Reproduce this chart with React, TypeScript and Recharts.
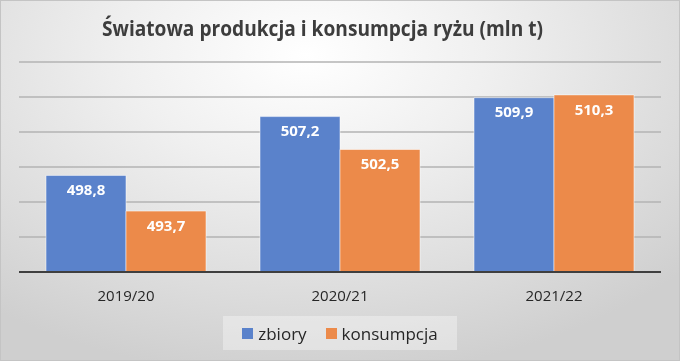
import React from "react";
import { BarChart, Bar, XAxis, YAxis, CartesianGrid, LabelList, Legend, Customized } from "recharts";

const categories = ["2019/20", "2020/21", "2021/22"];
const zbiory = [498.8, 507.2, 509.9];
const konsumpcja = [493.7, 502.5, 510.3];
const yTicks = [485, 490, 495, 500, 505, 510, 515];
const title = "Światowa produkcja i konsumpcja ryżu (mln t)";
const seriesNames = { zbiory: "zbiory", konsumpcja: "konsumpcja" };

const data = categories.map((c, i) => ({ cat: c, zbiory: zbiory[i], konsumpcja: konsumpcja[i] }));

const BLUE = "#5A82CB";
const ORANGE = "#EC8A4A";
const FONT = "'Open Sans', sans-serif";

const fmt = (v: any) => Number(v).toFixed(1).replace(".", ",");

const LegendContent = () => (
  <div
    style={{
      width: 234,
      height: 34,
      background: "rgba(255,255,255,0.35)",
      display: "flex",
      alignItems: "center",
      justifyContent: "center",
      fontFamily: FONT,
      fontSize: 17,
      color: "#262626",
    }}
  >
    <span style={{ display: "inline-block", width: 11, height: 11, background: BLUE, marginRight: 5 }} />
    <span style={{ marginRight: 19 }}>{seriesNames.zbiory}</span>
    <span style={{ display: "inline-block", width: 11, height: 11, background: ORANGE, marginRight: 5 }} />
    <span>{seriesNames.konsumpcja}</span>
  </div>
);

const Title = () => (
  <text
    x={102}
    y={36}
    textLength={441}
    lengthAdjust="spacingAndGlyphs"
    style={{ fontFamily: FONT, fontSize: 21, fontWeight: 700, fill: "#3d3d3d" }}
  >
    {title}
  </text>
);

export default function App() {
  return (
    <div
      style={{
        position: "fixed",
        left: 0,
        top: 0,
        width: 680,
        height: 361,
        boxSizing: "border-box",
        border: "1px solid #c4c4c4",
        background: "radial-gradient(ellipse 75% 90% at 45% 15%, #ffffff 0%, #f0f0f0 35%, #dcdcdc 75%, #cfcfcf 100%)",
        overflow: "hidden",
      }}
    >
      <div style={{ position: "absolute", left: -1, top: -1 }}>
        <BarChart
          width={680}
          height={361}
          data={data}
          margin={{ top: 62, left: 19, right: 19, bottom: 0 }}
          barCategoryGap={27}
          barGap={0}
        >
          <CartesianGrid vertical={false} stroke="#b3b3b3" strokeWidth={1.5} />
          <YAxis hide domain={[485, 515]} ticks={yTicks} allowDataOverflow />
          <XAxis
            dataKey="cat"
            height={89}
            axisLine={{ stroke: "#3f3f3f", strokeWidth: 2 }}
            tickLine={false}
            tick={{ fontFamily: FONT, fontSize: 15, fill: "#262626" }}
            dy={10}
          />
          <Bar dataKey="zbiory" fill={BLUE} stroke="rgba(255,255,255,0.5)" strokeWidth={1} isAnimationActive={false}>
            <LabelList
              dataKey="zbiory"
              position="insideTop"
              offset={9}
              formatter={fmt}
              style={{ fontFamily: FONT, fontSize: 15, fontWeight: 700, fill: "#ffffff" }}
            />
          </Bar>
          <Bar dataKey="konsumpcja" fill={ORANGE} stroke="rgba(255,255,255,0.5)" strokeWidth={1} isAnimationActive={false}>
            <LabelList
              dataKey="konsumpcja"
              position="insideTop"
              offset={9}
              formatter={fmt}
              style={{ fontFamily: FONT, fontSize: 15, fontWeight: 700, fill: "#ffffff" }}
            />
          </Bar>
          <Legend
            layout="horizontal"
            verticalAlign="middle"
            align="center"
            content={LegendContent}
            wrapperStyle={{ position: "absolute", top: 316, left: 223, width: 234, height: 34 }}
          />
          <Customized component={Title} />
        </BarChart>
      </div>
    </div>
  );
}
